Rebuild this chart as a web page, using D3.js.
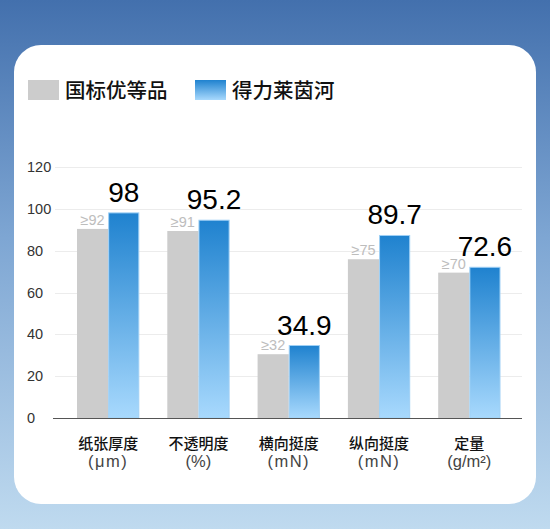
<!DOCTYPE html>
<html><head><meta charset="utf-8">
<script src="https://cdn.jsdelivr.net/npm/d3@7/dist/d3.min.js"></script>
<style>
html,body{margin:0;padding:0;width:550px;height:529px;overflow:hidden;}
svg{display:block;}
</style></head>
<body>
<div id="chart"></div>
<script>
const categories = ["纸张厚度","不透明度","横向挺度","纵向挺度","定量"];
const units = ["(μm)","(%)","(mN)","(mN)","(g/m²)"];
const seriesNames = ["国标优等品","得力莱茵河"];
const standardValues = [90.4, 89.4, 30.5, 75.9, 69.5];
const standardLabels = ["≥92","≥91","≥32","≥75","≥70"];
const productValues = [98.3, 94.8, 34.9, 87.5, 72.3];
const productLabels = ["98","95.2","34.9","89.7","72.6"];
const yTicks = [0,20,40,60,80,100,120];

const W = 550, H = 529;
const svg = d3.select("#chart").append("svg").attr("width", W).attr("height", H);
const defs = svg.append("defs");

const bg = defs.append("linearGradient").attr("id","bg").attr("x1",0).attr("y1",0).attr("x2",0).attr("y2",1);
bg.append("stop").attr("offset","0%").attr("stop-color","#4370ad");
bg.append("stop").attr("offset","45%").attr("stop-color","#7ea6d3");
bg.append("stop").attr("offset","100%").attr("stop-color","#bfdaef");

const bl = defs.append("linearGradient").attr("id","blueGrad").attr("x1",0).attr("y1",0).attr("x2",0).attr("y2",1);
bl.append("stop").attr("offset","0%").attr("stop-color","#1f82cf");
bl.append("stop").attr("offset","100%").attr("stop-color","#a8d9fd");

svg.append("rect").attr("width",W).attr("height",H).attr("fill","url(#bg)");
svg.append("rect").attr("x",14).attr("y",45).attr("width",522).attr("height",459).attr("rx",27).attr("fill","#fff");

// legend
const leg = svg.append("g");
leg.append("rect").attr("x",28).attr("y",80).attr("width",31).attr("height",20).attr("fill","#cccccc");
leg.append("text").attr("x",65).attr("y",97.5).text(seriesNames[0])
  .attr("font-family","'Noto Sans CJK SC'").attr("font-weight",500).attr("font-size",20.5).attr("fill","#111");
leg.append("rect").attr("x",195).attr("y",80).attr("width",31).attr("height",20).attr("fill","url(#blueGrad)");
leg.append("text").attr("x",232).attr("y",97.5).text(seriesNames[1])
  .attr("font-family","'Noto Sans CJK SC'").attr("font-weight",500).attr("font-size",20.5).attr("fill","#111");

const y = d3.scaleLinear().domain([0,120]).range([418,167]);
const x = d3.scaleBand().domain(categories).range([63,514.5]).paddingInner(0.31).paddingOuter(0.155);
const xs = d3.scaleBand().domain(["std","prod"]).range([0, x.bandwidth()]);

// gridlines
svg.append("g").selectAll("line").data(yTicks.filter(t=>t>0)).join("line")
  .attr("x1",55).attr("x2",522).attr("y1",d=>Math.round(y(d))+0.5).attr("y2",d=>Math.round(y(d))+0.5)
  .attr("stroke","#ececec").attr("stroke-width",1);

// y tick labels
svg.append("g").selectAll("text").data(yTicks).join("text")
  .attr("x",27).attr("y",d=>y(d)+5).text(d=>d)
  .attr("font-family","'Liberation Sans', Arial, sans-serif").attr("font-size",14.5).attr("fill","#333");

// bars
const g = svg.append("g");
g.selectAll("rect.std").data(categories).join("rect").attr("class","std")
  .attr("x",(d)=>x(d)+xs("std")).attr("width",xs.bandwidth())
  .attr("y",(d,i)=>y(standardValues[i])).attr("height",(d,i)=>y(0)-y(standardValues[i]))
  .attr("fill","#cccccc");
g.selectAll("rect.prod").data(categories).join("rect").attr("class","prod")
  .attr("x",(d)=>x(d)+xs("prod")+0.5).attr("width",xs.bandwidth()-1)
  .attr("y",(d,i)=>y(productValues[i])+0.5).attr("height",(d,i)=>y(0)-y(productValues[i])-0.5)
  .attr("fill","url(#blueGrad)").attr("stroke","#9fd0f5").attr("stroke-width",1);

// labels
g.selectAll("text.std").data(categories).join("text").attr("class","std")
  .attr("x",d=>x(d)+xs("std")+xs.bandwidth()/2).attr("y",(d,i)=>y(standardValues[i])-4)
  .attr("text-anchor","middle").text((d,i)=>standardLabels[i])
  .attr("font-family","'Liberation Sans', Arial, sans-serif").attr("font-size",14.5).attr("fill","#bdbdbd");
g.selectAll("text.prod").data(categories).join("text").attr("class","prod")
  .attr("x",d=>x(d)+xs("prod")+xs.bandwidth()/2).attr("y",(d,i)=>y(productValues[i])-10.5)
  .attr("text-anchor","middle").text((d,i)=>productLabels[i])
  .attr("font-family","'Liberation Sans', Arial, sans-serif").attr("font-size",28).attr("fill","#000");

// axis line
svg.append("line").attr("x1",53).attr("x2",522).attr("y1",418.5).attr("y2",418.5).attr("stroke","#555").attr("stroke-width",1);

// category labels
const cl = svg.append("g");
cl.selectAll("text.cat").data(categories).join("text").attr("class","cat")
  .attr("x",d=>x(d)+x.bandwidth()/2).attr("y",449).attr("text-anchor","middle").text(d=>d)
  .attr("font-family","'Noto Sans CJK SC'").attr("font-weight",500).attr("font-size",15).attr("fill","#111");
cl.selectAll("text.unit").data(categories).join("text").attr("class","unit")
  .attr("x",d=>x(d)+x.bandwidth()/2).attr("y",466.5).attr("text-anchor","middle").text((d,i)=>units[i])
  .attr("letter-spacing",(d,i)=>units[i].length===4 && units[i]!=="(%)" ? 1.5 : 0)
  .attr("font-family","'Liberation Sans', Arial, sans-serif").attr("font-size",16.5).attr("fill","#444");
</script>
</body></html>
